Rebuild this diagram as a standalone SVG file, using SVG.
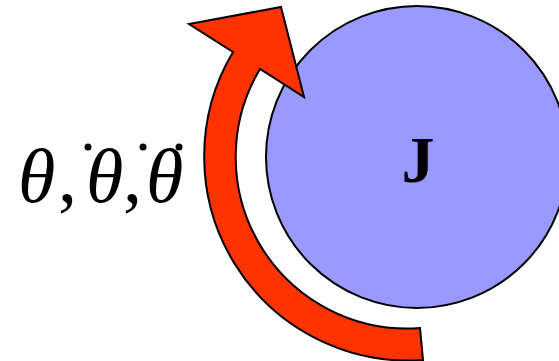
<svg xmlns="http://www.w3.org/2000/svg" width="559" height="361" viewBox="0 0 559 361">
  <style>
    .outline { stroke: #000; stroke-width: 2; stroke-linejoin: miter; }
    .math { font-family: "Liberation Serif", "Times New Roman", serif; font-size: 76px; fill: #000; }
    .it { font-style: italic; }
  </style>
  <rect width="559" height="361" fill="#fff"/>
  <g id="inertia">
    <circle class="outline" cx="417" cy="157" r="151" fill="#9999FF"/>
    <text x="418" y="182" text-anchor="middle" font-family="Liberation Serif, serif" font-weight="bold" font-size="66">J</text>
  </g>
  <g id="connectors">
    <path id="rotation-arrow" class="outline" fill="#FF3300" d="M 420,328 A 171.5 171.5 0 0 1 260,69 L 304,97 L 281,7 L 189,24 L 233,52 A 204 204 0 0 0 423,360 Z"/>
  </g>
  <g id="angle-label" class="math">
    <text class="it" x="18" y="202">θ</text>
    <text x="58" y="202">,</text>
    <text class="it" x="86" y="202">θ</text>
    <text x="123" y="202">,</text>
    <text class="it" x="146" y="202">θ</text>
    <circle cx="88" cy="147" r="3.5"/>
    <circle cx="143" cy="147" r="3.5"/>
    <circle cx="179" cy="147" r="3.5"/>
  </g>
</svg>
